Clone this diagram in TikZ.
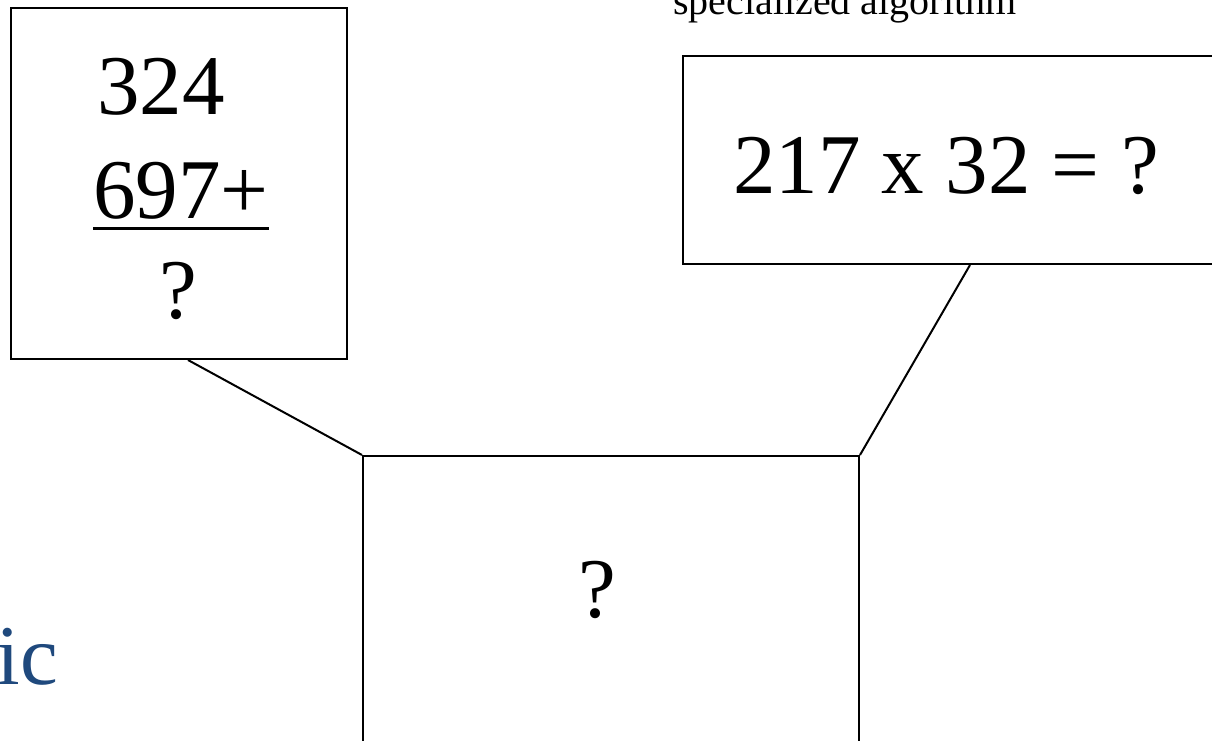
\documentclass[tikz,border=0pt]{standalone}
\usepackage{fontspec}
\setmainfont{Liberation Serif}
\usepackage{xcolor}
\definecolor{titleblue}{HTML}{1F497D}

% thick rule under the last addend
\newcommand{\sumrule}[1]{\vtop{\hbox{#1}\kern8pt\hrule height 3.5pt}}

\begin{document}
\begin{tikzpicture}[
    x=1pt, y=-1pt,
    box/.style={
        rectangle,
        draw=black,
        line width=2pt,
        inner sep=0pt,
        anchor=north west
    },
    big/.style={
        inner sep=0pt,
        font=\fontsize{85}{100}\selectfont
    },
    note/.style={
        inner sep=0pt,
        font=\fontsize{40}{48}\selectfont
    },
    link/.style={line width=2pt}
]
\useasboundingbox (0,0) rectangle (1212,741);
\clip (0,0) rectangle (1212,741);

% the three boxes
\node[box, minimum width=336pt, minimum height=351pt] (addbox) at (10,7) {};
\node[box, minimum width=600pt, minimum height=208pt] (mulbox) at (682,55) {};
\node[box, minimum width=496pt, minimum height=360pt] (mainbox) at (362,455) {};

% sums
\node[big, anchor=base west] (addtop) at (97,115) {324};
\node[big, anchor=base west] (addmid) at (93,218) {\sumrule{697+}};
\node[big, anchor=base] (addres) at (178,318) {?};
\node[big, anchor=base west] (multext) at (733,193) {217 x 32 = ?};
\node[big, anchor=base] (mainq) at (597,617) {?};

\node[note, anchor=base west] (algo) at (673,15) {specialized algorithm};
\node[big, anchor=base east, text=titleblue] (title) at (58,684) {ic};

% connectors
\draw[link] ([xshift=9pt]addbox.south) -- (mainbox.north west);
\draw[link] ([xshift=288pt]mulbox.south west) -- (mainbox.north east);

\end{tikzpicture}
\end{document}
